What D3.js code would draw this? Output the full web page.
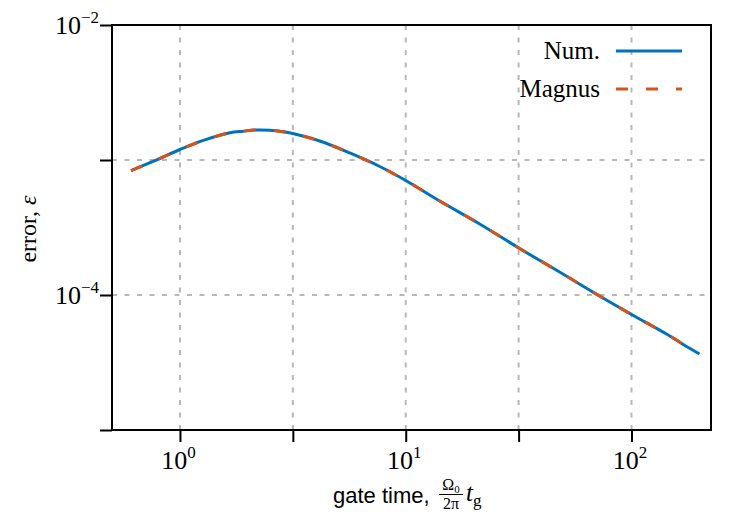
<!DOCTYPE html>
<html>
<head>
<meta charset="utf-8">
<script src="https://cdn.jsdelivr.net/npm/d3@7"></script>
<style>
  body { margin: 0; background: #fff; }
  svg { display: block; }
</style>
</head>
<body>
<div id="chart"></div>
<script>
'use strict'

// gate time (x) and error (y)
const tNum = [0.607, 0.775, 1.0, 1.29, 1.664, 1.901, 2.147, 2.502, 2.856, 3.162, 4.164, 5.652, 7.674, 10, 14.14, 21.26, 31.95, 48.02, 72.19, 101.0, 142.9, 168.2, 200];
const errNum = [8.33e-4, 9.91e-4, 1.196e-3, 1.411e-3, 1.591e-3, 1.634e-3, 1.666e-3, 1.66e-3, 1.621e-3, 1.571e-3, 1.382e-3, 1.127e-3, 8.95e-4, 7.05e-4, 4.97e-4, 3.36e-4, 2.21e-4, 1.48e-4, 9.83e-5, 7.11e-5, 5.14e-5, 4.34e-5, 3.66e-5];
const tMagnus = [0.607, 0.775, 1.0, 1.29, 1.664, 1.901, 2.147, 2.502, 2.856, 3.162, 4.164, 5.652, 7.674, 10, 14.14, 21.26, 31.95, 48.02, 72.19, 101.0, 142.9, 168.2, 184.3];
const errMagnus = [8.33e-4, 9.91e-4, 1.196e-3, 1.411e-3, 1.591e-3, 1.634e-3, 1.666e-3, 1.66e-3, 1.621e-3, 1.571e-3, 1.382e-3, 1.127e-3, 8.95e-4, 7.05e-4, 4.97e-4, 3.36e-4, 2.21e-4, 1.48e-4, 9.83e-5, 7.11e-5, 5.14e-5, 4.34e-5, 3.88e-5];

// ticks as powers of ten; only some get a label
const xTickExp = [0, 0.5, 1, 1.5, 2];
const xLabelExp = [0, 1, 2];
const yTickExp = [-2, -3, -4, -5];
const yLabelExp = [-2, -4];

const seriesNames = ["Num.", "Magnus"];
const seriesColors = ["#0072BD", "#D95319"];

const width = 750;
const height = 525;
const margin = { top: 25, right: 39, bottom: 95, left: 112 };
const plotW = width - margin.left - margin.right;
const plotH = height - margin.top - margin.bottom;

const serif = "'Liberation Serif', 'DejaVu Serif', serif";
const sans = "'Liberation Sans', 'DejaVu Sans', sans-serif";

const svg = d3.select("#chart")
    .append("svg")
    .attr("width", width)
    .attr("height", height);

const g = svg.append("g")
    .attr("transform", `translate(${margin.left},${margin.top})`);

const x = d3.scaleLog()
    .domain([0.5, 225])
    .range([0, plotW]);

const y = d3.scaleLog()
    .domain([1e-5, 1e-2])
    .range([plotH, 0]);

const xTicks = xTickExp.map(e => Math.pow(10, e));
const yTicks = yTickExp.map(e => Math.pow(10, e));

// Grid
g.append("g")
    .selectAll("line")
    .data(xTicks)
    .enter().append("line")
    .attr("x1", d => x(d))
    .attr("x2", d => x(d))
    .attr("y1", 0)
    .attr("y2", plotH)
    .attr("stroke", "#b8b8b8")
    .attr("stroke-width", 2)
    .attr("stroke-dasharray", "5,7.5");

g.append("g")
    .selectAll("line")
    .data(yTicks)
    .enter().append("line")
    .attr("x1", 0)
    .attr("x2", plotW)
    .attr("y1", d => y(d))
    .attr("y2", d => y(d))
    .attr("stroke", "#b8b8b8")
    .attr("stroke-width", 2)
    .attr("stroke-dasharray", "5,7.5");

// Axes (ticks only, labels drawn by hand for the superscripts)
const xAxis = g.append("g")
    .attr("transform", `translate(0,${plotH})`)
    .call(d3.axisBottom(x).tickValues(xTicks).tickSize(12).tickFormat(""));
const yAxis = g.append("g")
    .call(d3.axisLeft(y).tickValues(yTicks).tickSize(12).tickFormat(""));
[xAxis, yAxis].forEach(a => {
    a.select(".domain").remove();
    a.selectAll(".tick line").attr("stroke", "#000").attr("stroke-width", 2);
});

xAxis.selectAll(".tick")
    .each(function (d) {
        const e = Math.round(Math.log10(d) * 2) / 2;
        if (!xLabelExp.includes(e)) return;
        const t = d3.select(this).append("text")
            .attr("x", -2)
            .attr("y", 39)
            .attr("text-anchor", "middle")
            .attr("fill", "#000")
            .style("font-family", serif)
            .style("font-size", "26px");
        t.append("tspan").text("10");
        t.append("tspan").attr("dy", -11).style("font-size", "17px").text(e);
    });

yAxis.selectAll(".tick")
    .each(function (d) {
        const e = Math.round(Math.log10(d));
        if (!yLabelExp.includes(e)) return;
        const t = d3.select(this).append("text")
            .attr("x", -13)
            .attr("y", 8)
            .attr("text-anchor", "end")
            .attr("fill", "#000")
            .style("font-family", serif)
            .style("font-size", "26px");
        t.append("tspan").text("10");
        t.append("tspan").attr("dy", -11).style("font-size", "17px").text("\u2212" + Math.abs(e));
    });

// Lines
const line = d3.line()
    .x(d => x(d[0]))
    .y(d => y(d[1]))
    .curve(d3.curveCatmullRom.alpha(0.5));

const numData = d3.zip(tNum, errNum);
const magnusData = d3.zip(tMagnus, errMagnus);

g.append("path")
    .datum(numData)
    .attr("d", line)
    .attr("fill", "none")
    .attr("stroke", seriesColors[0])
    .attr("stroke-width", 3);

g.append("path")
    .datum(magnusData)
    .attr("d", line)
    .attr("fill", "none")
    .attr("stroke", seriesColors[1])
    .attr("stroke-width", 3)
    .attr("stroke-dasharray", "12,18");

// Frame
g.append("rect")
    .attr("width", plotW)
    .attr("height", plotH)
    .attr("fill", "none")
    .attr("stroke", "#000")
    .attr("stroke-width", 2);

// Legend
const legend = g.selectAll(".legend")
    .data(seriesNames)
    .enter().append("g")
    .attr("class", "legend")
    .attr("transform", (d, i) => `translate(0,${26 + i * 38})`);

legend.append("text")
    .attr("x", 488)
    .attr("y", 8)
    .attr("text-anchor", "end")
    .style("font-family", serif)
    .style("font-size", "25px")
    .text(d => d);

legend.append("line")
    .attr("x1", 504)
    .attr("x2", 570)
    .attr("stroke", (d, i) => seriesColors[i])
    .attr("stroke-width", 3)
    .attr("stroke-dasharray", (d, i) => i === 1 ? "12,18" : null);

// Axis titles
svg.append("text")
    .attr("x", 333)
    .attr("y", 503)
    .style("font-family", sans)
    .style("font-size", "22px")
    .text("gate time,");

const frac = svg.append("g").style("font-family", serif).style("font-size", "16px");
const num = frac.append("text").attr("x", 451).attr("y", 490).attr("text-anchor", "middle");
num.append("tspan").text("\u03A9");
num.append("tspan").attr("dy", 3).style("font-size", "11px").text("0");
frac.append("line").attr("x1", 439).attr("x2", 463).attr("y1", 494.5).attr("y2", 494.5)
    .attr("stroke", "#000").attr("stroke-width", 1);
frac.append("text").attr("x", 451).attr("y", 509).attr("text-anchor", "middle").text("2\u03C0");

const tg = svg.append("text")
    .attr("x", 466)
    .attr("y", 501)
    .style("font-family", serif)
    .style("font-size", "25px");
tg.append("tspan").style("font-style", "italic").text("t");
tg.append("tspan").attr("dy", 5).style("font-size", "17px").text("g");

svg.append("text")
    .attr("transform", "translate(36,229) rotate(-90)")
    .attr("text-anchor", "middle")
    .style("font-family", serif)
    .style("font-size", "24px")
    .html("error, <tspan font-style='italic'>\u03B5</tspan>");
</script>
</body>
</html>
